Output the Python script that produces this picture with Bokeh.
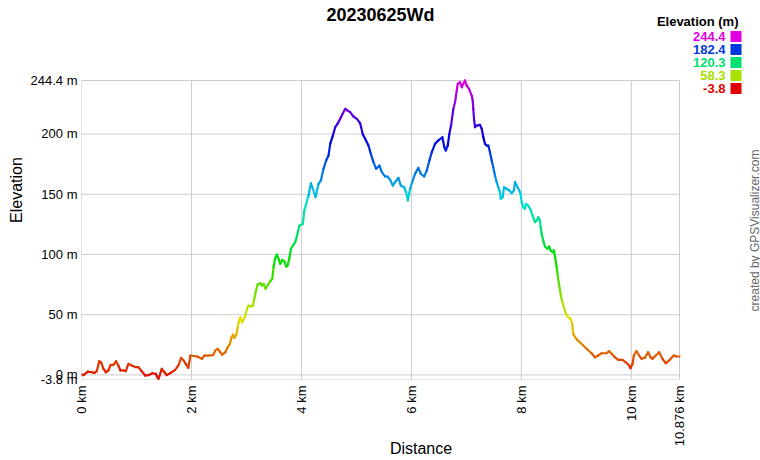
import math
import colorsys
from bokeh.plotting import figure
from bokeh.models import (ColumnDataSource, Range1d, FixedTicker, CustomJSTickFormatter,
                          Label, BoxAnnotation)
from bokeh.embed import file_html
from bokeh.resources import INLINE

title_text = "20230625Wd"
x_label = "Distance"
y_label = "Elevation"
legend_title = "Elevation (m)"
credit_text = "created by GPSVisualizer.com"

distance_km = [
    0.0, 0.036, 0.114, 0.187, 0.236, 0.278, 0.322, 0.358, 0.400, 0.441, 0.490, 0.527, 0.587,
    0.630, 0.672, 0.708, 0.763, 0.805, 0.854, 0.914, 0.986, 1.035, 1.095, 1.157, 1.217, 1.290,
    1.350, 1.399, 1.459, 1.508, 1.550, 1.611, 1.702, 1.762, 1.811, 1.858, 1.895, 1.944,
    1.980, 2.102, 2.193, 2.234, 2.312, 2.392, 2.434, 2.476, 2.525, 2.556, 2.616, 2.658, 2.694,
    2.730, 2.756, 2.779, 2.816, 2.839, 2.865, 2.888, 2.919, 2.948, 2.979, 3.010, 3.039, 3.083,
    3.119, 3.143, 3.166, 3.203, 3.252, 3.283, 3.312, 3.348, 3.384, 3.433, 3.470, 3.493, 3.519,
    3.555, 3.584, 3.615, 3.651, 3.688, 3.724, 3.748, 3.784, 3.809, 3.846, 3.887, 3.906,
    3.965, 4.027, 4.051, 4.087, 4.129, 4.172, 4.209, 4.256, 4.311, 4.354, 4.401, 4.450, 4.492,
    4.523, 4.572, 4.614, 4.656, 4.705, 4.754, 4.796, 4.837, 4.886, 4.946, 5.008, 5.068, 5.117,
    5.159, 5.219, 5.262, 5.310, 5.359, 5.419, 5.462, 5.522, 5.564, 5.613, 5.662, 5.704, 5.764,
    5.807, 5.867, 5.904, 5.935, 5.976, 6.025, 6.067, 6.127, 6.171, 6.231, 6.280, 6.327, 6.371,
    6.430, 6.490, 6.563, 6.599, 6.625, 6.661, 6.690, 6.721, 6.763, 6.794, 6.825, 6.843, 6.885,
    6.916, 6.944, 6.975, 7.006, 7.048, 7.097, 7.115, 7.126, 7.139, 7.157, 7.188, 7.248, 7.279,
    7.308, 7.339, 7.370, 7.399, 7.429, 7.460, 7.489, 7.520, 7.551, 7.580, 7.611, 7.624, 7.660,
    7.684, 7.733, 7.780, 7.824, 7.865, 7.884, 7.915, 7.962, 7.987, 8.005, 8.034, 8.065, 8.083,
    8.125, 8.169, 8.205, 8.247, 8.278, 8.307, 8.338, 8.350, 8.369, 8.398, 8.429, 8.471, 8.507,
    8.532, 8.569, 8.592, 8.616, 8.641, 8.665, 8.688, 8.714, 8.737, 8.774, 8.810, 8.852, 8.895,
    8.925, 8.943, 8.979, 9.015, 9.064, 9.124, 9.186, 9.277, 9.337, 9.397, 9.459, 9.549, 9.597,
    9.640, 9.700, 9.760, 9.840, 9.900, 9.960, 9.985, 10.022, 10.045, 10.094, 10.142, 10.185,
    10.245, 10.305, 10.349, 10.385, 10.445, 10.505, 10.567, 10.627, 10.699, 10.772, 10.821, 10.876,
]

elevation_m = [
    0.5, -0.2, 2.8, 2.2, 1.7, 3.1, 11.4, 10.3, 5.1, 2.2, 3.7, 8.1, 8.6,
    11.4, 7.6, 3.7, 3.7, 3.1, 9.2, 7.8, 6.4, 6.4, 3.1, -0.5, -0.2, 1.4,
    0.9, -3.8, 5.1, 2.2, -0.2, 1.4, 4.2, 7.8, 14.2, 12.0, 9.2, 5.9,
    16.1, 15.3, 13.4, 16.1, 16.1, 16.4, 20.3, 21.7, 18.8, 16.9, 18.8, 23.0, 25.2,
    31.3, 33.5, 30.8, 33.5, 39.1, 45.2, 47.9, 43.7, 45.7, 49.3, 54.9, 57.6, 56.8,
    57.6, 63.2, 68.6, 75.0, 76.1, 74.2, 75.6, 71.5, 74.2, 77.8, 79.8, 89.4, 96.4,
    99.9, 96.4, 92.2, 95.5, 94.4, 90.0, 90.8, 97.7, 104.7, 107.4, 110.2, 113.2,
    124.0, 125.4, 136.5, 142.0, 148.9, 159.1, 154.5, 147.5, 158.6, 161.4, 171.1, 178.0, 182.1,
    191.8, 198.7, 205.6, 208.4, 212.6, 217.2, 220.9, 219.5, 218.1, 214.5, 212.6, 208.9, 199.6,
    196.0, 190.4, 183.5, 176.6, 171.1, 173.8, 168.3, 164.7, 164.7, 162.0, 157.2, 160.0, 163.6,
    157.2, 155.8, 151.7, 144.8, 154.5, 161.4, 166.9, 171.9, 166.9, 164.7, 169.7, 178.0, 184.9,
    191.8, 194.6, 197.3, 189.0, 186.3, 190.4, 200.1, 207.0, 220.9, 226.4, 236.1, 241.6, 243.0,
    238.8, 241.6, 244.4, 240.2, 237.5, 231.9, 227.8, 220.9, 212.6, 205.6, 207.0, 207.6, 204.3,
    197.3, 191.8, 190.4, 190.4, 184.9, 178.0, 172.4, 165.5, 160.0, 155.8, 151.7, 146.2, 147.5,
    155.8, 154.5, 153.1, 150.8, 153.1, 160.0, 157.2, 153.1, 150.3, 143.4, 139.2, 137.9, 142.0,
    140.6, 137.0, 132.3, 126.8, 128.2, 130.9, 128.2, 122.6, 117.1, 111.6, 106.6, 104.7, 106.6,
    103.3, 101.9, 103.3, 97.2, 89.4, 81.1, 74.2, 67.3, 61.8, 56.2, 50.7, 47.9, 46.6,
    42.4, 34.1, 31.3, 29.1, 27.1, 24.4, 21.7, 18.0, 14.7, 16.1, 18.0, 18.0, 19.7,
    17.5, 14.7, 12.5, 12.5, 10.5, 7.8, 5.6, 9.2, 16.1, 19.7, 16.1, 13.4,
    14.2, 18.8, 14.7, 13.4, 16.1, 18.8, 13.4, 9.7, 12.5, 16.1, 15.3, 15.3,
]

x_ticks = [0, 2, 4, 6, 8, 10, 10.876]
y_ticks = [-3.8, 0, 50, 100, 150, 200, 244.4]
legend_values = [244.4, 182.4, 120.3, 58.3, -3.8]

X_MIN, X_MAX = 0.0, 10.876
ELEV_MIN, ELEV_MAX = -3.8, 244.4
FONT = "Liberation Sans"
GRID = "#cccccc"

# canvas layout (pixels)
W, H = 760, 460
PLOT_L, PLOT_R, PLOT_T, PLOT_B = 81, 679, 80, 379   # visual plot box
# the Bokeh frame spans from PLOT_L to the right edge and from the top edge to PLOT_B,
# so that the title, legend and credit can be drawn as real text inside it
px_per_km = (PLOT_R - PLOT_L) / (X_MAX - X_MIN)
px_per_m = (PLOT_B - PLOT_T) / (ELEV_MAX - ELEV_MIN)
x_end = X_MAX + (W - PLOT_R) / px_per_km
y_end = ELEV_MAX + PLOT_T / px_per_m


def elev_color(e):
    t = (e - ELEV_MIN) / (ELEV_MAX - ELEV_MIN)
    t = min(max(t, 0.0), 1.0)
    r, g, b = colorsys.hsv_to_rgb(t * 300.0 / 360.0, 1.0, 0.88)
    return "#%02x%02x%02x" % (int(round(r * 255)), int(round(g * 255)), int(round(b * 255)))


p = figure(width=W, height=H, output_backend="svg", toolbar_location=None,
           x_range=Range1d(X_MIN, x_end), y_range=Range1d(ELEV_MIN, y_end),
           min_border_left=PLOT_L, min_border_right=0, min_border_top=0,
           min_border_bottom=H - PLOT_B,
           background_fill_color="white", border_fill_color="white")
p.title.visible = False
p.outline_line_color = None
p.xgrid.grid_line_color = None
p.ygrid.grid_line_color = None

# grid lines / plot box from the tick arrays
p.segment(x0=x_ticks, x1=x_ticks, y0=[ELEV_MIN] * len(x_ticks), y1=[ELEV_MAX] * len(x_ticks),
          line_color=GRID, line_width=1)
p.segment(x0=[X_MIN] * len(y_ticks), x1=[X_MAX] * len(y_ticks), y0=y_ticks, y1=y_ticks,
          line_color=GRID, line_width=1)

seg = ColumnDataSource(dict(
    x0=distance_km[:-1], x1=distance_km[1:],
    y0=elevation_m[:-1], y1=elevation_m[1:],
    c=[elev_color((a + b) / 2.0) for a, b in zip(elevation_m[:-1], elevation_m[1:])],
))
p.segment(x0="x0", y0="y0", x1="x1", y1="y1", source=seg, line_color="c",
          line_width=2.2, line_cap="round")

for ax in (p.xaxis[0], p.yaxis[0]):
    ax.axis_line_color = None
    ax.major_tick_line_color = None
    ax.minor_tick_line_color = None
    ax.major_tick_in = 0
    ax.major_tick_out = 0
    ax.minor_tick_in = 0
    ax.minor_tick_out = 0
    ax.major_label_text_font = FONT
    ax.major_label_text_font_size = "13px"
    ax.major_label_text_color = "#000000"
    ax.axis_label_text_font = FONT
    ax.axis_label_text_font_size = "16px"
    ax.axis_label_text_font_style = "normal"
    ax.axis_label_text_color = "#000000"

p.xaxis.ticker = FixedTicker(ticks=x_ticks)
p.xaxis.formatter = CustomJSTickFormatter(code="return tick + ' km';")
p.xaxis.major_label_orientation = math.pi / 2
p.xaxis.major_label_standoff = 6
p.xaxis.axis_label = x_label
p.xaxis.axis_label_standoff = -9

p.yaxis.ticker = FixedTicker(ticks=y_ticks)
p.yaxis.formatter = CustomJSTickFormatter(code="return tick + ' m';")
p.yaxis.major_label_standoff = 4
p.yaxis.axis_label = y_label
p.yaxis.axis_label_standoff = 3


def sx(cx):
    return cx - PLOT_L


def sy(cy):
    return PLOT_B - cy


def add_label(cx, cy, text, size, bold=False, color="#000000", align="center", angle=0.0):
    p.add_layout(Label(x=sx(cx), y=sy(cy), x_units="screen", y_units="screen", text=text,
                       text_font=FONT, text_font_size=size,
                       text_font_style="bold" if bold else "normal",
                       text_color=color, text_align=align, text_baseline="middle",
                       angle=angle))


add_label(380, 14, title_text, "18px", bold=True)
add_label(738, 21, legend_title, "13px", bold=True, align="right")
add_label(754, 230, credit_text, "12px", color="#666666", angle=math.pi / 2)

legend_row_y = [36, 49, 62, 75, 88]
for v, cy in zip(legend_values, legend_row_y):
    col = elev_color(v)
    add_label(725, cy, str(v), "13px", bold=True, color=col, align="right")
    p.add_layout(BoxAnnotation(left=sx(730), right=sx(741), top=sy(cy - 5.5), bottom=sy(cy + 5.5),
                               left_units="screen", right_units="screen",
                               top_units="screen", bottom_units="screen",
                               fill_color=col, fill_alpha=1.0, line_color=None))

open("out.html", "w").write(file_html(p, INLINE))
